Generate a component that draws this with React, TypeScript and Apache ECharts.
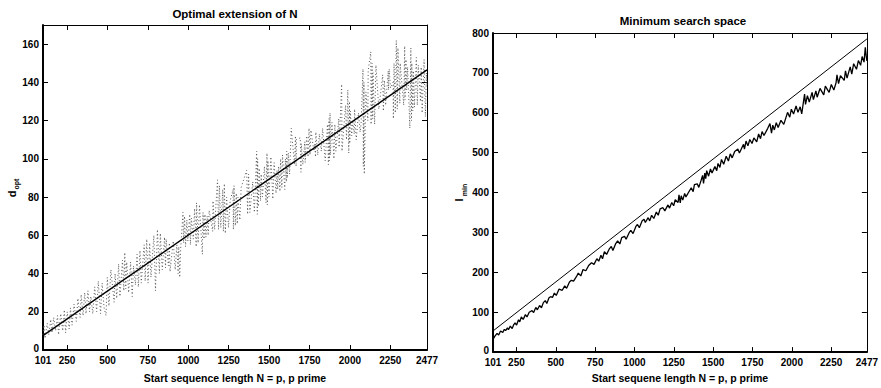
import React, { useEffect, useRef } from "react";
import * as echarts from "echarts";

const xTickValues = [101, 250, 500, 750, 1000, 1250, 1500, 1750, 2000, 2250, 2477];
const dOptTicks = [0, 20, 40, 60, 80, 100, 120, 140, 160];
const lMinTicks = [0, 100, 200, 300, 400, 500, 600, 700, 800];

// d_opt per start length N (dotted)
const dOptPoints: [number, number][] = [
  [101, 8], [107, 13], [113, 6], [127, 14], [137, 8], [149, 16], [157, 9], [167, 17], [179, 10], [191, 18], [197, 8],
  [211, 19], [223, 10], [233, 21], [241, 9], [251, 20], [263, 11], [271, 22], [281, 13], [293, 24],
  [307, 15], [317, 27], [331, 17], [337, 29], [349, 18], [359, 30], [367, 19], [379, 31], [389, 20], [397, 28],
  [409, 19], [421, 33], [433, 20], [443, 36], [457, 19], [467, 35], [479, 22], [491, 18], [499, 38],
  [509, 23], [521, 42], [541, 25], [547, 40], [557, 27], [569, 45], [577, 28], [593, 47], [601, 31],
  [607, 51], [613, 32], [619, 46], [631, 30], [643, 46], [653, 28], [661, 44], [673, 34], [683, 50], [691, 33],
  [701, 52], [709, 35], [727, 55], [733, 36], [743, 58], [751, 35], [761, 56], [769, 38], [787, 60], [797, 31],
  [809, 63], [821, 40], [827, 61], [839, 42], [853, 59], [859, 43], [863, 58], [877, 44], [883, 56], [887, 41],
  [907, 57], [919, 42], [929, 55], [937, 40], [941, 54], [947, 38], [953, 53], [967, 72], [971, 56], [977, 70], [983, 54], [991, 68], [997, 57],
  [1009, 71], [1013, 55], [1019, 69], [1031, 58], [1039, 74], [1049, 54], [1051, 77], [1061, 56], [1069, 76], [1087, 50], [1091, 72], [1097, 58],
  [1103, 71], [1109, 59], [1117, 70], [1123, 60], [1129, 73], [1151, 62], [1153, 78], [1163, 63], [1171, 76], [1181, 89], [1187, 63], [1193, 86], [1201, 64],
  [1213, 84], [1217, 62], [1223, 87], [1229, 61], [1237, 80], [1249, 64], [1259, 78], [1277, 84], [1279, 63], [1283, 86], [1291, 65], [1297, 82],
  [1303, 66], [1307, 80], [1319, 68], [1327, 85], [1361, 94], [1367, 71], [1373, 92], [1381, 72], [1399, 88],
  [1409, 72], [1423, 104], [1427, 71], [1429, 100], [1433, 75], [1439, 95], [1447, 78], [1451, 92], [1459, 80], [1471, 96], [1481, 77], [1487, 103], [1489, 76], [1493, 99], [1499, 80],
  [1511, 101], [1523, 79], [1531, 98], [1543, 82], [1549, 94], [1553, 84], [1559, 96], [1567, 83], [1571, 100], [1579, 85], [1583, 102], [1597, 84],
  [1601, 100], [1607, 88], [1609, 104], [1613, 90], [1619, 103], [1627, 92], [1637, 116], [1657, 97], [1663, 112], [1667, 96], [1669, 110], [1693, 111], [1697, 93], [1699, 108],
  [1709, 97], [1721, 109], [1723, 98], [1733, 112], [1741, 101], [1747, 116], [1753, 102], [1759, 115], [1777, 104], [1783, 108], [1787, 101], [1789, 114],
  [1801, 102], [1811, 113], [1823, 104], [1831, 116], [1847, 99], [1861, 118], [1867, 97], [1871, 121], [1873, 99], [1877, 124], [1879, 102], [1889, 119],
  [1901, 100], [1907, 118], [1913, 104], [1931, 121], [1933, 106], [1949, 139], [1951, 104], [1973, 128], [1979, 110], [1987, 136], [1993, 103], [1997, 130], [1999, 108],
  [2003, 125], [2011, 112], [2017, 120], [2027, 113], [2029, 126], [2039, 110], [2053, 124], [2063, 114], [2069, 118], [2081, 147], [2083, 96], [2087, 140], [2089, 92], [2099, 135],
  [2111, 120], [2113, 146], [2129, 156], [2131, 118], [2137, 150], [2141, 121], [2143, 145], [2153, 118], [2161, 149], [2179, 126], [2203, 144],
  [2207, 125], [2213, 141], [2221, 128], [2237, 146], [2239, 136], [2243, 147], [2251, 137], [2267, 140], [2269, 121], [2273, 150], [2281, 124], [2287, 162], [2293, 126], [2297, 158],
  [2309, 129], [2311, 150], [2333, 128], [2339, 159], [2341, 131], [2347, 152], [2351, 136], [2357, 148], [2371, 116], [2377, 158], [2381, 120], [2383, 150], [2389, 125], [2393, 146], [2399, 127],
  [2411, 153], [2417, 128], [2423, 149], [2437, 130], [2441, 148], [2447, 124], [2459, 152], [2467, 122], [2473, 145], [2477, 138],
];

// linear fit of d_opt
const dOptFit: [number, number][] = [[101, 7.5], [2477, 146.5]];

// minimum search space l_min
const lMinPoints: [number, number][] = [
  [101, 32], [113, 40], [127, 47], [137, 43], [149, 53], [163, 49], [173, 57], [181, 54], [193, 61], [199, 56],
  [211, 65], [223, 59], [233, 69], [241, 73], [251, 68], [263, 81], [271, 76], [281, 88], [293, 82], [307, 94],
  [317, 88], [331, 100], [349, 104], [359, 99], [373, 112], [383, 106], [397, 117], [409, 111], [421, 124], [433, 129],
  [443, 122], [457, 136], [467, 139], [479, 137], [491, 148], [503, 142], [521, 158], [541, 155], [557, 166], [569, 160],
  [587, 176], [599, 180], [613, 178], [631, 189], [643, 198], [659, 191], [673, 207], [691, 204], [709, 217], [727, 224],
  [743, 220], [761, 234], [773, 228], [787, 243], [797, 234], [809, 252], [823, 245], [839, 258], [853, 265], [863, 255],
  [881, 272], [893, 279], [907, 271], [919, 287], [937, 290], [947, 283], [967, 300], [977, 305], [991, 297], [1009, 315],
  [1019, 320], [1031, 312], [1049, 329], [1061, 333], [1069, 325], [1087, 337], [1097, 329], [1109, 343], [1123, 335], [1139, 351],
  [1151, 343], [1163, 359], [1181, 362], [1193, 354], [1213, 369], [1223, 361], [1237, 375], [1249, 367], [1259, 382], [1277, 375],
  [1283, 394], [1291, 374], [1297, 392], [1307, 381], [1319, 398], [1327, 389], [1361, 412], [1373, 402], [1381, 420], [1399, 422],
  [1409, 413], [1423, 430], [1433, 443], [1439, 423], [1447, 449], [1453, 435], [1459, 455], [1471, 441], [1483, 459], [1493, 449],
  [1511, 465], [1523, 455], [1531, 473], [1543, 463], [1553, 483], [1567, 471], [1583, 491], [1597, 479], [1609, 497], [1621, 487],
  [1637, 503], [1657, 509], [1667, 499], [1693, 521], [1699, 509], [1709, 529], [1721, 517], [1733, 533], [1747, 523], [1759, 537],
  [1777, 527], [1789, 547], [1801, 535], [1811, 553], [1823, 543], [1847, 561], [1861, 573], [1871, 549], [1879, 569], [1889, 557],
  [1901, 575], [1913, 563], [1931, 581], [1949, 571], [1973, 601], [1987, 589], [1997, 609], [2011, 597], [2027, 617], [2039, 601],
  [2053, 615], [2063, 597], [2081, 647], [2087, 621], [2099, 643], [2111, 627], [2129, 651], [2137, 633], [2153, 655], [2161, 639],
  [2179, 661], [2203, 645], [2213, 667], [2237, 651], [2251, 671], [2267, 657], [2281, 675], [2287, 695], [2297, 673], [2309, 693],
  [2333, 681], [2341, 705], [2351, 687], [2371, 715], [2381, 697], [2393, 723], [2411, 709], [2423, 731], [2437, 719], [2447, 741],
  [2459, 727], [2467, 764], [2473, 742], [2477, 730],
];

// upper bound line
const lMinBound: [number, number][] = [[101, 53], [2477, 785]];

const FONT = "Liberation Sans, Arial, Helvetica, sans-serif";
const plain = (v: number) => String(v);

function xAxes(gridIndex: number, name: string, nameGap: number) {
  return [
    {
      type: "value",
      gridIndex,
      position: "bottom",
      min: 101,
      max: 2477,
      axisLine: { show: true, onZero: false, lineStyle: { color: "#000", width: 2 } },
      axisTick: { show: true, inside: true, length: 5, customValues: xTickValues, lineStyle: { color: "#000", width: 1 } },
      axisLabel: {
        show: true,
        customValues: xTickValues,
        formatter: plain,
        color: "#000",
        fontFamily: FONT,
        fontWeight: "bold",
        fontSize: 10,
        lineHeight: 10,
        margin: 5,
        hideOverlap: false,
      },
      splitLine: { show: false },
      name,
      nameLocation: "middle",
      nameGap,
      nameTextStyle: { color: "#000", fontFamily: FONT, fontWeight: "bold", fontSize: 10.5 },
    },
    {
      type: "value",
      gridIndex,
      position: "top",
      min: 101,
      max: 2477,
      axisLine: { show: true, onZero: false, lineStyle: { color: "#000", width: 1 } },
      axisTick: { show: true, inside: true, length: 5, customValues: xTickValues, lineStyle: { color: "#000", width: 1 } },
      axisLabel: { show: false },
      splitLine: { show: false },
    },
  ];
}

function yAxes(gridIndex: number, max: number, ticks: number[]) {
  return [
    {
      type: "value",
      gridIndex,
      position: "left",
      min: 0,
      max,
      axisLine: { show: true, onZero: false, lineStyle: { color: "#000", width: 2 } },
      axisTick: { show: true, inside: true, length: 5, customValues: ticks, lineStyle: { color: "#000", width: 1 } },
      axisLabel: {
        show: true,
        customValues: ticks,
        formatter: (v: number) => (v === 0 ? "{z|0}" : String(v)),
        color: "#000",
        fontFamily: FONT,
        fontWeight: "bold",
        fontSize: 10,
        lineHeight: 10,
        margin: 4,
        rich: {
          z: { color: "#000", fontFamily: FONT, fontWeight: "bold", fontSize: 10, lineHeight: 10, padding: [0, 0, 3, 0] },
        },
      },
      splitLine: { show: false },
    },
    {
      type: "value",
      gridIndex,
      position: "right",
      min: 0,
      max,
      axisLine: { show: true, onZero: false, lineStyle: { color: "#000", width: 1 } },
      axisTick: { show: true, inside: true, length: 5, customValues: ticks, lineStyle: { color: "#000", width: 1 } },
      axisLabel: { show: false },
      splitLine: { show: false },
    },
  ];
}

export default function App() {
  const ref = useRef<HTMLDivElement>(null);

  useEffect(() => {
    if (!ref.current) return;
    const chart = echarts.init(ref.current, null, { renderer: "svg" });
    const option = {
      animation: false,
      backgroundColor: "#fff",
      title: [
        {
          text: "Optimal extension of N",
          left: 235,
          top: 8,
          textAlign: "center",
          padding: 0,
          textStyle: { color: "#000", fontFamily: FONT, fontWeight: "bold", fontSize: 11.5 },
        },
        {
          text: "Minimum search space",
          left: 683,
          top: 15,
          textAlign: "center",
          padding: 0,
          textStyle: { color: "#000", fontFamily: FONT, fontWeight: "bold", fontSize: 11.5 },
        },
      ],
      grid: [
        { left: 43, top: 25, width: 384, height: 325, containLabel: false },
        { left: 493, top: 33, width: 380, height: 324, containLabel: false },
      ],
      xAxis: [...xAxes(0, "Start sequence length N = p, p prime", 22), ...xAxes(1, "Start sequene length N = p, p prime", 14)],
      yAxis: [...yAxes(0, 170, dOptTicks), ...yAxes(1, 800, lMinTicks)],
      graphic: [
        {
          type: "text",
          x: 12,
          y: 194,
          rotation: Math.PI / 2,
          style: { text: "d", fill: "#000", font: `bold 11px ${FONT}`, align: "center", verticalAlign: "middle", textAlign: "center", textVerticalAlign: "middle" },
        },
        {
          type: "text",
          x: 16,
          y: 184,
          rotation: Math.PI / 2,
          style: { text: "opt", fill: "#000", font: `bold 7px ${FONT}`, align: "center", verticalAlign: "middle", textAlign: "center", textVerticalAlign: "middle" },
        },
        {
          type: "text",
          x: 459,
          y: 200,
          rotation: Math.PI / 2,
          style: { text: "l", fill: "#000", font: `bold 11px ${FONT}`, align: "center", verticalAlign: "middle", textAlign: "center", textVerticalAlign: "middle" },
        },
        {
          type: "text",
          x: 464,
          y: 190,
          rotation: Math.PI / 2,
          style: { text: "min", fill: "#000", font: `bold 7px ${FONT}`, align: "center", verticalAlign: "middle", textAlign: "center", textVerticalAlign: "middle" },
        },
      ],
      series: [
        {
          type: "line",
          name: "d_opt",
          xAxisIndex: 0,
          yAxisIndex: 0,
          data: dOptPoints,
          showSymbol: false,
          symbol: "none",
          lineStyle: { color: "#555", width: 1, type: [1, 2.5] },
          z: 2,
        },
        {
          type: "line",
          name: "d_opt fit",
          xAxisIndex: 0,
          yAxisIndex: 0,
          data: dOptFit,
          showSymbol: false,
          symbol: "none",
          lineStyle: { color: "#000", width: 1.4 },
          z: 3,
        },
        {
          type: "line",
          name: "bound",
          xAxisIndex: 2,
          yAxisIndex: 2,
          data: lMinBound,
          showSymbol: false,
          symbol: "none",
          lineStyle: { color: "#000", width: 1 },
        },
        {
          type: "line",
          name: "l_min",
          xAxisIndex: 2,
          yAxisIndex: 2,
          data: lMinPoints,
          showSymbol: false,
          symbol: "none",
          lineStyle: { color: "#000", width: 1.3 },
        },
      ],
    };
    chart.setOption(option as any);
    return () => chart.dispose();
  }, []);

  return (
    <div
      ref={ref}
      style={{ position: "fixed", left: 0, top: 0, width: 881, height: 388, background: "#fff" }}
    />
  );
}
